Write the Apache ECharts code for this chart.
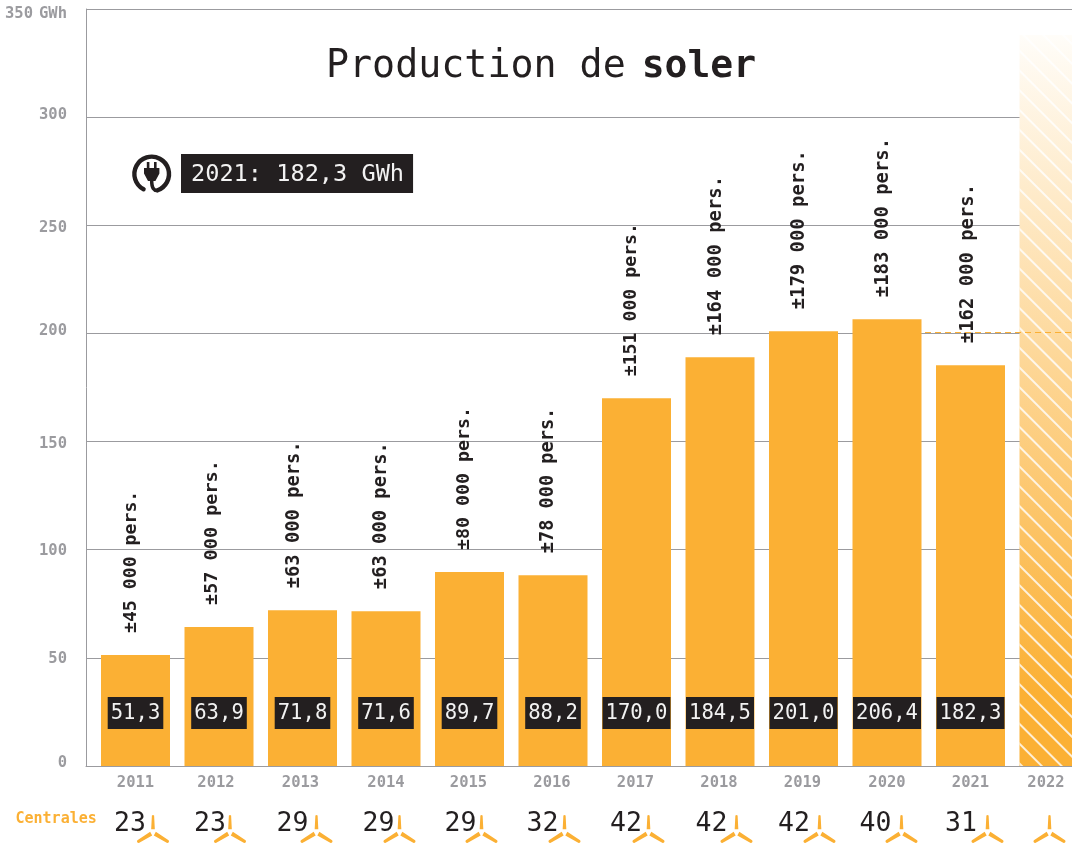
<!DOCTYPE html>
<html><head><meta charset="utf-8">
<style>html,body{margin:0;padding:0;background:#fff;overflow:hidden}#c{width:1072px;height:843px}</style>
<script src="https://cdn.jsdelivr.net/npm/echarts@6/dist/echarts.min.js"></script>
</head><body><div id="c"></div>
<script>
const years=['2011','2012','2013','2014','2015','2016','2017','2018','2019','2020','2021','2022'];
const barValues=[51.3,64.3,72,71.6,89.7,88.2,170,189,201,206.6,185.3,null];
const valueLabels=['51,3','63,9','71,8','71,6','89,7','88,2','170,0','184,5','201,0','206,4','182,3',''];
const forecastValues=[null,null,null,null,null,null,null,null,null,null,null,338];
const persons=['±45 000 pers.','±57 000 pers.','±63 000 pers.','±63 000 pers.','±80 000 pers.','±78 000 pers.','±151 000 pers.','±164 000 pers.','±179 000 pers.','±183 000 pers.','±162 000 pers.',''];
const plants=['23','23','29','29','29','32','42','42','42','40','31',''];
const yTicks=[0,50,100,150,200,250,300,350];
const targetValue=200.6;

// layout only
const yearShift=[0,-3,-2,0,-1,-1,-1,-1,-1,0,0,-8];
const yTickShift={0:-3,50:1,100:1,150:2,200:-2,250:3,300:-2,350:5};
const iconShift=[17.5,11,14,13.5,12,11.5,12,16.5,16,14.5,17,-4.5];
const numberShift=[-23,-20,-24,-21,-21,-22,-22.5,-25,-25.5,-26,-26.5,0];
const personShift=[1,-2,-3,0,0,0,0,1,1,1,3,0];
const personFont=[18.2,18.5,18.8,18.8,18.3,18.6,18.2,18.9,18.9,18.9,18.9,18.2];

const MONO='"DejaVu Sans Mono", monospace';
const ORANGE='#fbb034', INK='#231f20', GREY='#9b9b9f';
const TURBINE='path://M14.2,14.5 L14.9,1 Q16,-0.2 17.1,1 L17.8,14.5 Z M13.2,16.8 L15.2,20.6 L2,28 Q0.8,28 0.3,27 Q0,26 0.6,25.2 Z M18.8,16.8 L31.4,25.2 Q32,26 31.7,27 Q31.2,28 30,28 L16.8,20.6 Z';

const yearRich={};
yearShift.forEach((d,i)=>{yearRich['s'+i]={fontFamily:MONO,fontWeight:'bold',fontSize:15.5,color:GREY,padding:d<0?[0,-2*d,0,0]:0};});
const tickRich={};
yTicks.forEach(v=>{const d=yTickShift[v];tickRich['t'+v]={fontFamily:MONO,fontWeight:'bold',fontSize:15.5,color:GREY,padding:d<0?[0,0,-2*d,0]:(d>0?[2*d,0,0,0]:0)};});
tickRich.u={fontFamily:MONO,fontWeight:'bold',fontSize:15.5,color:GREY,padding:[10,0,0,6]};

const chart=echarts.init(document.getElementById('c'),null,{renderer:'canvas'});
chart.setOption({
  animation:false,
  backgroundColor:'#fff',
  title:{left:326,top:48,padding:0,text:'{a|Production de}{b|soler}',textStyle:{rich:{
    a:{fontFamily:MONO,fontSize:38.3,color:INK,fontWeight:'normal'},
    b:{fontFamily:MONO,fontSize:38,color:INK,fontWeight:'bold',padding:[0,0,0,16]}}}},
  grid:[
    {left:86,top:9,width:986,height:757,outerBoundsMode:'none'},
    {left:93.75,top:9,width:1002,height:757,outerBoundsMode:'none'},
    {left:93.75,top:802,width:1002,height:34,outerBoundsMode:'none'}
  ],
  xAxis:[
    {gridIndex:0,type:'category',data:years,axisLabel:{show:false},axisTick:{show:false},axisLine:{lineStyle:{color:GREY,width:1}}},
    {gridIndex:1,type:'category',data:years,axisLine:{show:false},axisTick:{show:false},
      axisLabel:{interval:0,margin:9,formatter:(v,i)=>`{s${i}|${v}}`,rich:yearRich}},
    {gridIndex:2,type:'category',data:years,show:false}
  ],
  yAxis:[
    {gridIndex:0,type:'value',min:0,max:350,interval:50,
      axisLine:{show:true,lineStyle:{color:GREY,width:1}},axisTick:{show:false},
      splitLine:{lineStyle:{color:GREY,width:1}},
      axisLabel:{margin:19,formatter:v=>v===350?`{t350|350}{u|GWh}`:`{t${v}|${v}}`,rich:tickRich}},
    {gridIndex:1,type:'value',min:0,max:350,interval:50,show:false},
    {gridIndex:2,type:'category',data:['Centrales'],axisLine:{show:false},axisTick:{show:false},
      axisLabel:{margin:-3,fontFamily:MONO,fontWeight:'bold',fontSize:15,color:ORANGE}}
  ],
  series:[
    {type:'bar',name:'Production',xAxisIndex:1,yAxisIndex:1,data:barValues,barWidth:69,barGap:'-100%',
      itemStyle:{color:ORANGE},
      label:{show:true,position:'insideBottom',distance:37,formatter:p=>valueLabels[p.dataIndex],
        fontFamily:MONO,fontSize:20.6,lineHeight:24,color:'#f2f2f2',backgroundColor:INK,padding:[5,3,3,3]},
      markLine:{silent:true,symbol:'none',label:{show:false},
        lineStyle:{color:ORANGE,type:[6,4],width:1.2},
        data:[[{x:925,yAxis:targetValue},{x:1072,yAxis:targetValue}]]}},
    {type:'bar',name:'Prévision',xAxisIndex:1,yAxisIndex:1,data:forecastValues,barWidth:69,barGap:'-100%',
      itemStyle:{color:new echarts.graphic.LinearGradient(0,0,0,1,[{offset:0,color:'#fffdf9'},{offset:0.9,color:ORANGE},{offset:1,color:ORANGE}]),
        decal:{symbol:'rect',color:'rgba(255,255,255,0.8)',backgroundColor:'transparent',dashArrayX:[1,0],dashArrayY:[1.4,11.6],rotation:Math.PI/4,symbolSize:1}}},
    {type:'bar',name:'Personnes',xAxisIndex:1,yAxisIndex:1,barWidth:69,barGap:'-100%',
      itemStyle:{color:'transparent'},
      data:barValues.map((v,i)=>({value:v,label:{offset:[0,-5+personShift[i]],fontSize:personFont[i]}})),
      label:{show:true,position:'top',distance:22,rotate:90,align:'left',verticalAlign:'middle',
        formatter:p=>persons[p.dataIndex],fontFamily:MONO,fontWeight:'bold',color:INK}},
    {type:'scatter',name:'Centrales',xAxisIndex:2,yAxisIndex:2,clip:false,symbol:TURBINE,symbolSize:[32,28],
      itemStyle:{color:ORANGE,opacity:1},
      data:years.map((y,i)=>({value:[y,'Centrales'],symbolOffset:[iconShift[i],10],
        label:{show:true,position:'inside',offset:[numberShift[i],-5],formatter:plants[i],fontFamily:MONO,fontSize:26.5,color:INK}}))}
  ],
  graphic:[
    {type:'text',left:181,top:154,z:10,style:{text:'2021: 182,3 GWh',fontFamily:MONO,fontSize:23.6,fill:'#f2f2f2',backgroundColor:INK,padding:[8,9,6,10],lineHeight:25}},
    {type:'arc',z:10,shape:{cx:151.7,cy:174,r:17.3,startAngle:118*Math.PI/180,endAngle:430*Math.PI/180},style:{stroke:INK,fill:null,lineWidth:4.4,lineCap:'round'}},
    {type:'polygon',z:10,shape:{points:[[146.8,162],[149.4,162],[149.4,168],[154,168],[154,162],[156.6,162],[156.6,168],[159.4,168],[159.4,173.5],[155.4,181],[148,181],[144,173.5],[144,168],[146.8,168]]},style:{fill:INK}},
    {type:'bezierCurve',z:10,shape:{x1:151.7,y1:180,x2:158,y2:190.5,cpx1:151.5,cpy1:188,cpx2:154,cpy2:191},style:{stroke:INK,fill:null,lineWidth:3.5}}
  ]
});
</script></body></html>
